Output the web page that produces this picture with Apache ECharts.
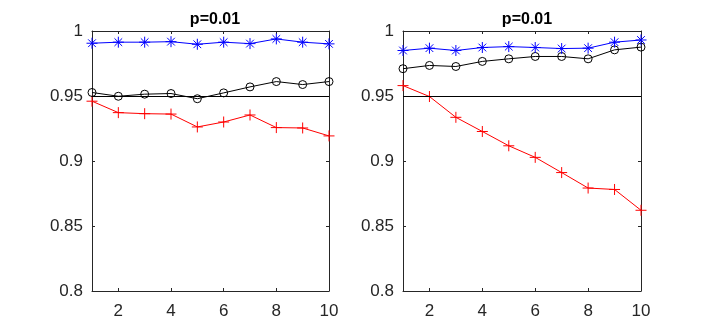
<!DOCTYPE html>
<html>
<head>
<meta charset="utf-8">
<script src="https://cdn.jsdelivr.net/npm/echarts@6/dist/echarts.min.js"></script>
<style>
  html, body { margin: 0; padding: 0; background: #fff; }
  #chart { width: 708px; height: 327px; }
</style>
</head>
<body>
<div id="chart"></div>
<script>
// data
const xValues = [1, 2, 3, 4, 5, 6, 7, 8, 9, 10];
const xTickLabels = [2, 4, 6, 8, 10];
const titles = ["p=0.01", "p=0.01"];
const refLevel = 0.95;

// left panel
const leftStar = [0.9906, 0.9914, 0.9914, 0.9918, 0.9898, 0.9914, 0.9903, 0.9939, 0.9914, 0.9901];
const leftCircle = [0.9527, 0.9498, 0.9514, 0.9519, 0.9479, 0.9524, 0.957, 0.9611, 0.9588, 0.9611];
const leftPlus = [0.946, 0.9372, 0.9364, 0.9361, 0.9262, 0.93, 0.9354, 0.9257, 0.9254, 0.9193];

// right panel
const rightStar = [0.985, 0.9868, 0.985, 0.9873, 0.988, 0.9873, 0.9865, 0.9868, 0.9914, 0.9931];
const rightCircle = [0.971, 0.9735, 0.9727, 0.9766, 0.9786, 0.9804, 0.9804, 0.9786, 0.9855, 0.9876];
const rightPlus = [0.958, 0.9496, 0.9336, 0.9227, 0.9117, 0.9028, 0.8911, 0.8792, 0.8781, 0.8621];

const chart = echarts.init(document.getElementById("chart"));

const textColor = "#262626";
const axisColor = "#262626";
const labelFont = { fontFamily: "Liberation Sans", fontSize: 17, color: textColor };

// marker shapes (matlab style)
const plusPath = "path://M0,-5L0,5M-5,0L5,0";
const starPath = "path://M0,-5L0,5M-5,0L5,0M-3.5,-3.5L3.5,3.5M-3.5,3.5L3.5,-3.5";

const pair = (ys) => xValues.map((x, i) => [x, ys[i]]);

const grids = [
  { left: 92, right: 379, top: 31, bottom: 36 },
  { left: 403, right: 67, top: 31, bottom: 36 },
];

const xAxes = [];
const yAxes = [];
grids.forEach((g, gi) => {
  // bottom axis with labels
  xAxes.push({
    type: "value", gridIndex: gi, min: 1, max: 10, position: "bottom",
    axisLine: { show: true, onZero: false, lineStyle: { color: axisColor, width: 1 } },
    axisTick: { show: true, inside: true, length: 3, customValues: xTickLabels, lineStyle: { color: axisColor } },
    axisLabel: { show: true, customValues: xTickLabels, margin: 12, ...labelFont },
    splitLine: { show: false },
  });
  // top box edge
  xAxes.push({
    type: "value", gridIndex: gi, min: 1, max: 10, position: "top",
    axisLine: { show: true, onZero: false, lineStyle: { color: axisColor, width: 1 } },
    axisTick: { show: true, inside: true, length: 3, customValues: xTickLabels, lineStyle: { color: axisColor } },
    axisLabel: { show: false },
    splitLine: { show: false },
  });
  yAxes.push({
    type: "value", gridIndex: gi, min: 0.8, max: 1, interval: 0.05, position: "left",
    axisLine: { show: true, onZero: false, lineStyle: { color: axisColor, width: 1 } },
    axisTick: { show: true, inside: true, length: 3, lineStyle: { color: axisColor } },
    axisLabel: { show: true, margin: 9, formatter: (v) => String(+v.toFixed(2)), ...labelFont },
    splitLine: { show: false },
  });
  yAxes.push({
    type: "value", gridIndex: gi, min: 0.8, max: 1, interval: 0.05, position: "right",
    axisLine: { show: true, onZero: false, lineStyle: { color: axisColor, width: 1 } },
    axisTick: { show: true, inside: true, length: 3, lineStyle: { color: axisColor } },
    axisLabel: { show: false },
    splitLine: { show: false },
  });
});

const makeSeries = (gi, ys, kind) => {
  const base = {
    type: "line",
    xAxisIndex: gi * 2,
    yAxisIndex: gi * 2,
    data: pair(ys),
    clip: false,
    animation: false,
    silent: true,
  };
  if (kind === "star") {
    return { ...base, symbol: starPath, symbolSize: 11, z: 4,
      lineStyle: { color: "#0000ff", width: 1 },
      itemStyle: { color: "transparent", borderColor: "#0000ff", borderWidth: 1 } };
  }
  if (kind === "circle") {
    return { ...base, symbol: "circle", symbolSize: 8, z: 3,
      lineStyle: { color: "#000000", width: 1 },
      itemStyle: { color: "transparent", borderColor: "#000000", borderWidth: 1 },
      markLine: {
        silent: true, symbol: "none", animation: false,
        label: { show: false },
        lineStyle: { color: "#000000", width: 1, type: "solid" },
        data: [{ yAxis: refLevel }],
      } };
  }
  return { ...base, symbol: plusPath, symbolSize: 11, z: 2,
    lineStyle: { color: "#ff0000", width: 1 },
    itemStyle: { color: "transparent", borderColor: "#ff0000", borderWidth: 1 } };
};

const option = {
  backgroundColor: "#ffffff",
  animation: false,
  title: titles.map((t, i) => ({
    text: t,
    left: i === 0 ? 210 : 522,
    textAlign: "center",
    top: 7,
    textStyle: { fontFamily: "Liberation Sans", fontSize: 16, fontWeight: "bold", color: "#000" },
  })),
  grid: grids,
  xAxis: xAxes,
  yAxis: yAxes,
  series: [
    makeSeries(0, leftPlus, "plus"),
    makeSeries(0, leftCircle, "circle"),
    makeSeries(0, leftStar, "star"),
    makeSeries(1, rightPlus, "plus"),
    makeSeries(1, rightCircle, "circle"),
    makeSeries(1, rightStar, "star"),
  ],
};

chart.setOption(option);
</script>
</body>
</html>
